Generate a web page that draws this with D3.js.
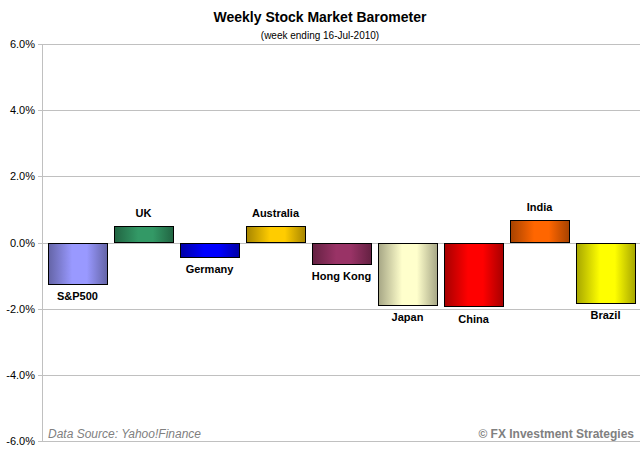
<!DOCTYPE html>
<meta charset="utf-8">
<style>
body { margin: 0; background: #fff; }
text { font-family: "Liberation Sans", Arial, sans-serif; }
.grid line { stroke: #c0c0c0; }
.yaxis text { font-size: 11px; fill: #000; }
.lbl { font-size: 11px; font-weight: bold; fill: #000; }
</style>
<svg width="643" height="453"></svg>
<script src="https://cdnjs.cloudflare.com/ajax/libs/d3/7.8.5/d3.min.js"></script>
<script>
"use strict";

// data
var markets = ["S&P500", "UK", "Germany", "Australia", "Hong Kong", "Japan", "China", "India", "Brazil"];
var weekly = [-1.23, 0.49, -0.42, 0.49, -0.63, -1.87, -1.91, 0.67, -1.81];
var barColors = ["#9999ff", "#339966", "#0000ff", "#ffcc00", "#993366", "#ffffcc", "#ff0000", "#ff6600", "#ffff00"];
var yTicks = [-6, -4, -2, 0, 2, 4, 6];

var svg = d3.select("svg");

var x = d3.scaleBand().domain(markets).range([44.5, 638.5]).paddingInner(0.106).paddingOuter(0.053);
var y = d3.scaleLinear().domain([-6, 6]).range([441, 44]);

// gradients, dark edges light middle
var defs = svg.append("defs");
barColors.forEach(function(c, i) {
  var g = defs.append("linearGradient").attr("id", "g" + i)
      .attr("x1", "0%").attr("x2", "100%").attr("y1", "0%").attr("y2", "0%");
  var dark = d3.rgb(c).darker(1.2);
  g.append("stop").attr("offset", "0%").attr("stop-color", dark);
  g.append("stop").attr("offset", "40%").attr("stop-color", c);
  g.append("stop").attr("offset", "65%").attr("stop-color", c);
  g.append("stop").attr("offset", "100%").attr("stop-color", dark);
});

// gridlines
svg.append("g").attr("class", "grid")
  .selectAll("line").data(yTicks).enter().append("line")
    .attr("x1", 38).attr("x2", 640)
    .attr("y1", function(d) { return Math.round(y(d)) + 0.5; })
    .attr("y2", function(d) { return Math.round(y(d)) + 0.5; });

svg.append("line").attr("x1", 42.5).attr("x2", 42.5).attr("y1", y(6)).attr("y2", y(-6))
  .attr("stroke", "#c0c0c0");

// y axis labels
svg.append("g").attr("class", "yaxis")
  .selectAll("text").data(yTicks).enter().append("text")
    .attr("x", 35).attr("y", function(d) { return y(d) + 4; })
    .attr("text-anchor", "end")
    .text(function(d) { return d.toFixed(1) + "%"; });

// bars
svg.append("g").selectAll("rect").data(weekly).enter().append("rect")
    .attr("x", function(d, i) { return Math.round(x(markets[i])) + 0.5; })
    .attr("width", Math.round(x.bandwidth()))
    .attr("y", function(d) { return Math.round(y(Math.max(0, d))) + 0.5; })
    .attr("height", function(d) { return Math.round(Math.abs(y(d) - y(0))); })
    .attr("fill", function(d, i) { return "url(#g" + i + ")"; })
    .attr("stroke", "#000");

// labels
svg.append("g").selectAll("text").data(weekly).enter().append("text")
    .attr("class", "lbl")
    .attr("x", function(d, i) { return x(markets[i]) + x.bandwidth() / 2; })
    .attr("y", function(d) { return d >= 0 ? y(d) - 9 : y(d) + 17; })
    .attr("text-anchor", "middle")
    .text(function(d, i) { return markets[i]; });

// titles
svg.append("text").attr("x", 320).attr("y", 22).attr("text-anchor", "middle")
  .style("font-size", "14px").style("font-weight", "bold")
  .text("Weekly Stock Market Barometer");
svg.append("text").attr("x", 320).attr("y", 39).attr("text-anchor", "middle")
  .style("font-size", "10px")
  .text("(week ending 16-Jul-2010)");

// footer
svg.append("text").attr("x", 48).attr("y", 438)
  .style("font-size", "12px").style("font-style", "italic").style("fill", "#808080")
  .text("Data Source: Yahoo!Finance");
svg.append("text").attr("x", 634).attr("y", 438).attr("text-anchor", "end")
  .style("font-size", "12px").style("font-weight", "bold").style("fill", "#808080")
  .text("© FX Investment Strategies");
</script>
